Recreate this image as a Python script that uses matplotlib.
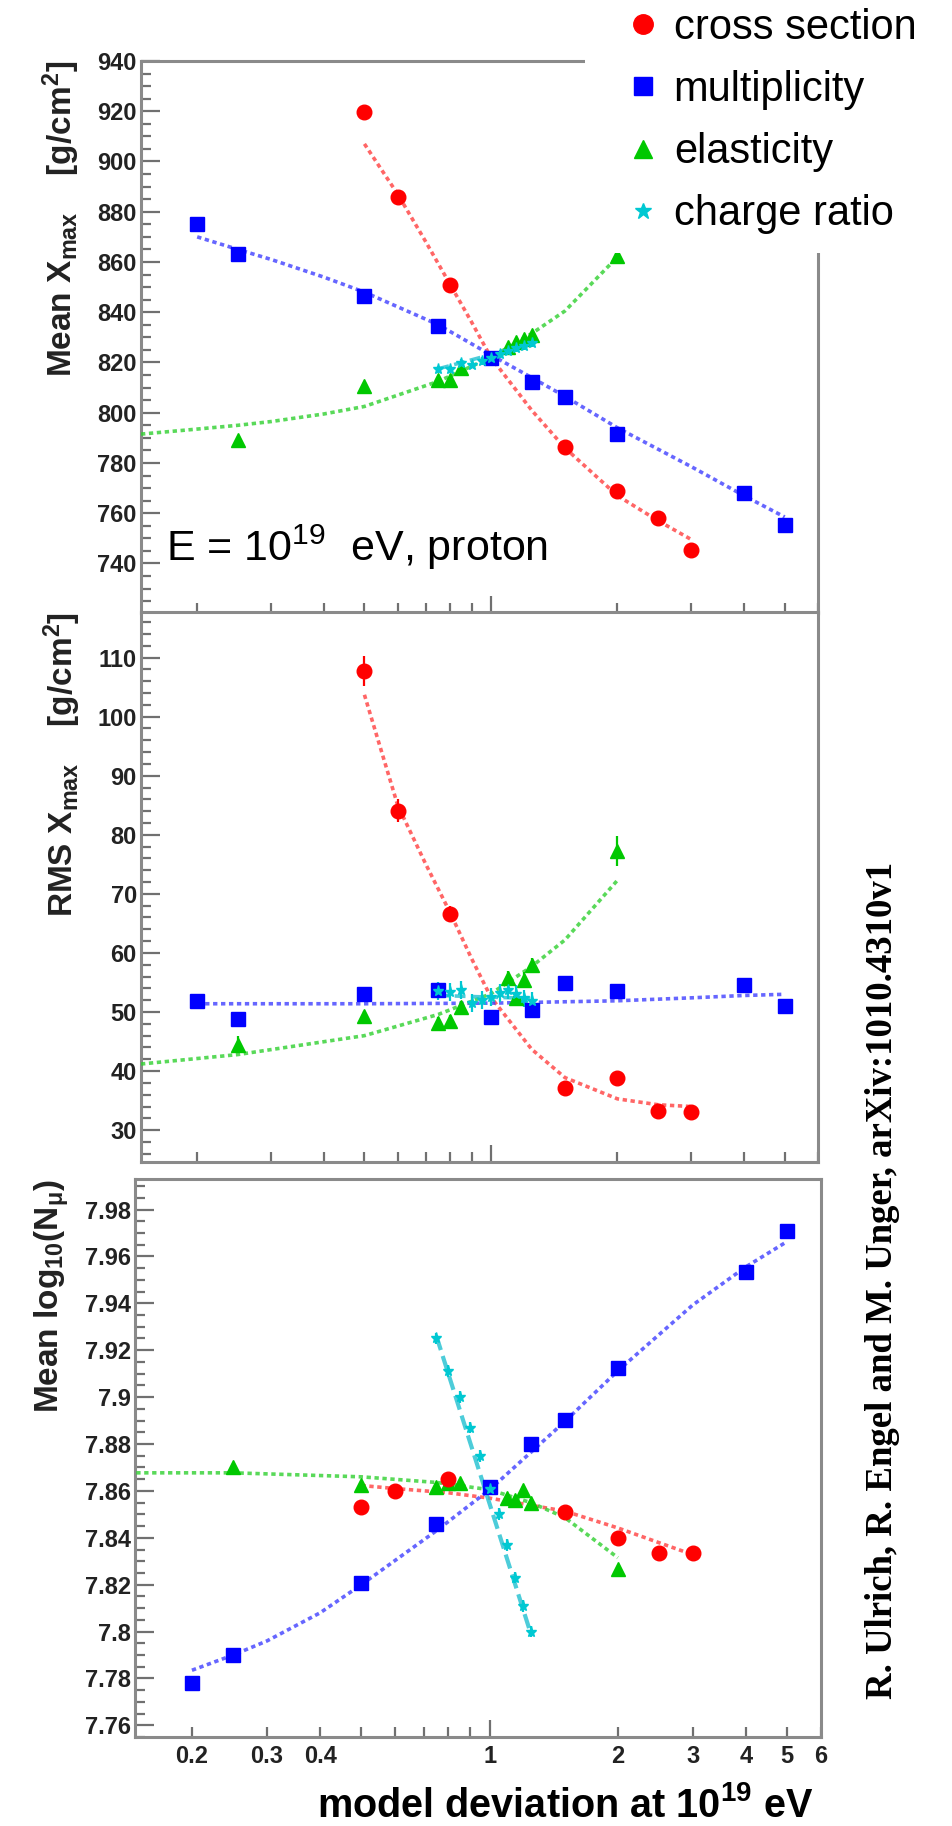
"""Xmax / RMS / N_mu vs. model deviation — three stacked ROOT-style panels."""
import numpy as np
import matplotlib
matplotlib.use("Agg")
import matplotlib.pyplot as plt
from matplotlib.lines import Line2D
from matplotlib.patches import Rectangle
from matplotlib.ticker import MultipleLocator, FuncFormatter

plt.rcParams.update({
    "font.family": ["Liberation Sans", "DejaVu Sans"],
    "mathtext.fontset": "custom",
    "mathtext.rm": "Liberation Sans",
    "mathtext.bf": "Liberation Sans:bold",
    "mathtext.it": "Liberation Sans:italic",
    "axes.unicode_minus": False,
})

RED, BLUE, GREEN, CYAN = "#ff0000", "#0000ff", "#00c800", "#00c8d2"
LRED, LBLUE, LGREEN, LCYAN = "#ff4040", "#4040ff", "#30d030", "#20c0d0"

# ---------------- data ----------------
x_cs = [0.5, 0.6, 0.8, 1.5, 2.0, 2.5, 3.0]
x_mu = [0.2, 0.25, 0.5, 0.75, 1.0, 1.25, 1.5, 2.0, 4.0, 5.0]
x_el = [0.25, 0.5, 0.75, 0.8, 0.85, 1.1, 1.15, 1.2, 1.25, 2.0]
x_cr = [0.75, 0.8, 0.85, 0.9, 0.95, 1.0, 1.05, 1.1, 1.15, 1.2, 1.25]

# panel 1: mean Xmax
xmax_cs = [919.5, 886, 850.7, 786.3, 769, 758.2, 745.2]
xmax_cs_err = [2.5, 1.5, 1.5, 1, 1, 1, 1]
xmax_mu = [875, 863, 846.6, 834.5, 821.7, 812.3, 806.4, 791.7, 768, 755.3]
xmax_el = [789.3, 810.8, 813, 813, 818, 826, 828, 829.5, 831, 862.5]
xmax_cr = [817.3, 817.3, 819.8, 819.2, 820.5, 821.8, 823.3, 824.5, 825.8, 826.5, 827.8]

fx_cs1 = [0.5, 0.6, 0.7, 0.8, 0.9, 1.0, 1.25, 1.5, 2.0, 2.5, 3.0]
fy_cs1 = [907, 887, 868, 851, 836, 822, 801, 786, 767, 757, 749.5]
fx_mu1 = [0.2, 0.25, 0.3, 0.4, 0.5, 0.75, 1.0, 1.25, 1.5, 2.0, 3.0, 4.0, 5.0]
fy_mu1 = [870, 865, 861, 854, 848, 835, 823, 814, 806.5, 794, 778.5, 767, 758.5]
fx_el1 = [0.147, 0.2, 0.25, 0.3, 0.4, 0.5, 0.75, 1.0, 1.25, 1.5, 2.0]
fy_el1 = [791.5, 793.5, 795, 796.5, 799.5, 802.5, 812.5, 822, 831.5, 840.5, 862]
fx_cr1 = [0.75, 1.25]
fy_cr1 = [817.5, 827.5]

# panel 2: RMS Xmax
rms_cs = [107.7, 84.1, 66.6, 37.1, 38.9, 33.2, 33.0]
rms_cs_err = [2.5, 2.0, 1.3, 1.0, 1.0, 0.8, 0.8]
rms_mu = [51.8, 48.9, 53.0, 53.8, 49.1, 50.4, 54.9, 53.5, 54.6, 51.1]
rms_mu_err = [1.0, 0.8, 1.0, 1.0, 0.8, 0.8, 1.0, 1.0, 1.0, 0.9]
rms_el = [44.5, 49.3, 48.2, 48.5, 50.8, 55.7, 52.3, 55.5, 58.0, 77.3]
rms_el_err = [1.5, 0.8, 1.0, 1.0, 1.0, 1.2, 1.0, 1.2, 1.2, 2.5]
rms_cr = [53.5, 53.4, 53.7, 51.5, 52.0, 52.6, 53.2, 53.7, 53.0, 52.3, 51.9]

fx_cs2 = [0.5, 0.6, 0.7, 0.8, 0.9, 1.0, 1.25, 1.5, 2.0, 2.5, 3.0]
fy_cs2 = [103.7, 85, 75, 66.8, 59, 52.5, 43.7, 38.9, 35.3, 34.3, 34.0]
fx_mu2 = [0.2, 0.5, 1.0, 2.0, 3.0, 4.0, 5.0]
fy_mu2 = [51.4, 51.4, 51.5, 51.9, 52.4, 52.8, 53.0]
fx_el2 = [0.147, 0.25, 0.5, 0.75, 1.0, 1.25, 1.5, 2.0]
fy_el2 = [41.2, 42.8, 46.0, 49.6, 53.1, 57.7, 62.2, 72.3]
fx_cr2 = [0.75, 1.25]
fy_cr2 = [52.8, 52.3]

# panel 3: mean log10(N_mu)
nmu_cs = [7.8533, 7.860, 7.865, 7.8509, 7.840, 7.8333, 7.8333]
nmu_mu = [7.778, 7.790, 7.8207, 7.846, 7.8618, 7.8799, 7.8904, 7.9125, 7.9532, 7.971]
nmu_el = [7.8701, 7.8623, 7.8618, 7.8632, 7.8632, 7.8569, 7.8563, 7.8605, 7.855, 7.8265]
nmu_cr = [7.925, 7.911, 7.900, 7.887, 7.875, 7.861, 7.850, 7.837, 7.823, 7.811, 7.800]

fx_cs3 = [0.5, 0.6, 0.8, 1.0, 1.5, 2.0, 2.5, 3.0]
fy_cs3 = [7.8623, 7.861, 7.8592, 7.8569, 7.8514, 7.8442, 7.8379, 7.8328]
fx_mu3 = [0.2, 0.25, 0.3, 0.4, 0.5, 0.75, 1.0, 1.5, 2.0, 3.0, 4.0, 5.0]
fy_mu3 = [7.7835, 7.790, 7.796, 7.808, 7.820, 7.843, 7.8605, 7.8895, 7.9112, 7.9393, 7.9556, 7.9664]
fx_el3 = [0.148, 0.25, 0.5, 0.75, 1.0, 1.25, 1.5, 2.0]
fy_el3 = [7.8677, 7.8677, 7.866, 7.8636, 7.8605, 7.855, 7.8487, 7.8315]
fx_cr3 = [0.75, 1.25]
fy_cr3 = [7.926, 7.799]

xticks_minor = [0.2, 0.3, 0.4, 0.5, 0.6, 0.7, 0.8, 0.9, 2, 3, 4, 5, 6]
xtick_labels = ["0.2", "0.3", "0.4", "", "", "", "", "", "2", "3", "4", "5", "6"]

# ---------------- figure ----------------
fig = plt.figure(figsize=(9.52, 18.26), dpi=100)
ax1 = fig.add_axes([0.1481, 0.6643, 0.7111, 0.3023])
ax2 = fig.add_axes([0.1481, 0.3636, 0.7111, 0.3012])
ax3 = fig.add_axes([0.1418, 0.0487, 0.7206, 0.3056])

MS = 10.5


def series(ax, x, y, yerr, color, marker, ms):
    ax.errorbar(x, y, yerr=yerr, fmt=marker, color=color, ms=ms, mec=color,
                elinewidth=1.6, capsize=0, zorder=4)


def fit(ax, x, y, color, dashes=(1.2, 1.0), lw=2.6):
    ax.plot(x, y, color=color, lw=lw, dashes=dashes, alpha=0.8, zorder=3)


def style(ax, ylim, major, minor, labels_x=False, fmt=None):
    ax.set_xscale("log")
    ax.set_xlim(0.147, 6.0)
    ax.set_ylim(*ylim)
    ax.yaxis.set_major_locator(MultipleLocator(major))
    ax.yaxis.set_minor_locator(MultipleLocator(minor))
    if fmt:
        ax.yaxis.set_major_formatter(FuncFormatter(fmt))
    ax.set_xticks([1], ["1"] if labels_x else [""])
    ax.set_xticks(xticks_minor, xtick_labels if labels_x else [""] * len(xticks_minor), minor=True)
    for s in ax.spines.values():
        s.set_color("#8a8a8a")
        s.set_linewidth(2.2)
    ax.tick_params(which="both", direction="in", colors="#707070", width=1.6,
                   top=False, right=False, labelcolor="#222222")
    ax.tick_params(axis="y", which="major", length=14, pad=3, labelsize=17)
    ax.tick_params(axis="y", which="minor", length=7)
    ax.tick_params(axis="x", which="major", length=12, pad=6, labelsize=17)
    ax.tick_params(axis="x", which="minor", length=7, pad=6, labelsize=17)
    for t in ax.get_yticklabels() + ax.get_xticklabels(which="both"):
        t.set_fontweight("bold")


# panel 1
fit(ax1, fx_cs1, fy_cs1, LRED)
fit(ax1, fx_mu1, fy_mu1, LBLUE)
fit(ax1, fx_el1, fy_el1, LGREEN)
fit(ax1, fx_cr1, fy_cr1, LCYAN, dashes=(3, 1.5))
series(ax1, x_el, xmax_el, 0.8, GREEN, "^", MS)
series(ax1, x_cs, xmax_cs, xmax_cs_err, RED, "o", MS)
series(ax1, x_mu, xmax_mu, 0.8, BLUE, "s", MS)
series(ax1, x_cr, xmax_cr, 1.5, CYAN, "*", 8)
style(ax1, (720.3, 940), 20, 5)
ax1.text(0.037, 0.094, r"E = 10$^{19}$  eV, proton", transform=ax1.transAxes,
         fontsize=31, color="black", ha="left", va="baseline")

# panel 2
fit(ax2, fx_cs2, fy_cs2, LRED)
fit(ax2, fx_mu2, fy_mu2, LBLUE)
fit(ax2, fx_el2, fy_el2, LGREEN)
fit(ax2, fx_cr2, fy_cr2, LCYAN, dashes=(3, 1.5))
series(ax2, x_el, rms_el, rms_el_err, GREEN, "^", MS)
series(ax2, x_cs, rms_cs, rms_cs_err, RED, "o", MS)
series(ax2, x_mu, rms_mu, rms_mu_err, BLUE, "s", MS)
series(ax2, x_cr, rms_cr, 1.5, CYAN, "*", 8)
style(ax2, (24.6, 117.7), 10, 2)

# panel 3
fit(ax3, fx_cs3, fy_cs3, LRED)
fit(ax3, fx_mu3, fy_mu3, LBLUE)
fit(ax3, fx_el3, fy_el3, LGREEN)
fit(ax3, fx_cr3, fy_cr3, LCYAN, dashes=(3.5, 1.5), lw=3)
series(ax3, x_el, nmu_el, 0.0015, GREEN, "^", MS)
series(ax3, x_cs, nmu_cs, 0.0015, RED, "o", MS)
series(ax3, x_mu, nmu_mu, 0.0015, BLUE, "s", MS)
series(ax3, x_cr, nmu_cr, 0.0025, CYAN, "*", 8)
style(ax3, (7.755, 7.993), 0.02, 0.005, labels_x=True, fmt=lambda v, p: f"{v:g}")

# y labels, top-aligned ROOT style
ylab = dict(rotation=90, ha="center", va="top", fontsize=24, color="#222222")
ax1.text(-0.118, 1.0, r"$\mathbf{Mean\ X_{max}\ \ \ \ [g/cm^{2}]}$", transform=ax1.transAxes, **ylab)
ax2.text(-0.117, 1.0, r"$\mathbf{RMS\ X_{max}\ \ \ \ [g/cm^{2}]}$", transform=ax2.transAxes, **ylab)
ax3.text(-0.121, 1.0, r"$\mathbf{Mean\ log_{10}(N_{\mu})}$", transform=ax3.transAxes, **ylab)

fig.text(0.855, 0.0115, r"$\mathbf{model\ deviation\ at\ 10^{19}\ eV}$", ha="right",
         va="center", fontsize=28.5, color="black")

fig.text(0.9275, 0.299, "R. Ulrich, R. Engel and M. Unger, arXiv:1010.4310v1",
         rotation=90, ha="center", va="center", fontsize=26.5, fontweight="bold",
         family=["Liberation Serif", "DejaVu Serif"], color="black")

# legend on a white patch covering the top-right corner of panel 1
fig.add_artist(Rectangle((585 / 952, 1 - 253 / 1826), 1, 1, transform=fig.transFigure,
                         facecolor="white", edgecolor="none", zorder=4))
handles = [
    Line2D([], [], ls="none", marker="o", color=RED, ms=14),
    Line2D([], [], ls="none", marker="s", color=BLUE, ms=13),
    Line2D([], [], ls="none", marker="^", color=GREEN, ms=13),
    Line2D([], [], ls="none", marker="*", color=CYAN, ms=12),
]
leg = fig.legend(handles, ["cross section", "multiplicity", "elasticity", "charge ratio"],
                 loc="upper left", bbox_to_anchor=(630 / 952, 1 - 8 / 1826), frameon=False,
                 fontsize=30, handlelength=0.6, handletextpad=0.45, labelspacing=0.53,
                 borderpad=0.0, borderaxespad=0.0)
leg.set_zorder(6)

fig.savefig("out.png", dpi=100)
